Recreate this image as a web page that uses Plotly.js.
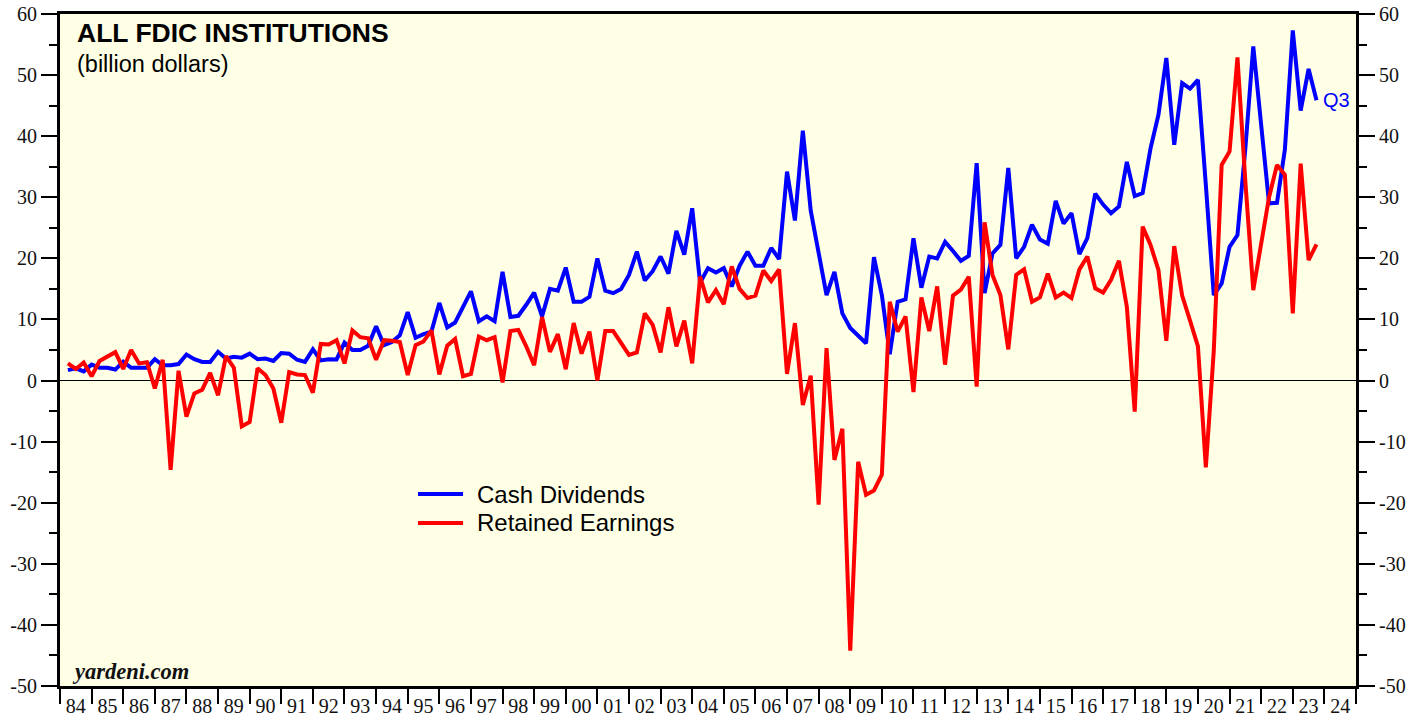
<!DOCTYPE html>
<html>
<head>
<meta charset="utf-8">
<script src="https://cdn.plot.ly/plotly-3.0.1.min.js"></script>
<style>
  html, body { margin: 0; padding: 0; background: #ffffff; }
  #chart { width: 1426px; height: 717px; }
</style>
</head>
<body>
<div id="chart"></div>
<script>
// Quarterly data, 1984 Q1 .. 2023 Q3 (billion dollars)
const startYear = 1984;

const cashDividends = [
  1.7, 2.0, 1.5, 2.6,   2.1, 2.1, 1.8, 3.1,   2.1, 2.1, 2.1, 3.5,   2.5, 2.5, 2.7, 4.25,
  3.5, 3.05, 3.05, 4.7, 3.6, 3.9, 3.75, 4.4,  3.5, 3.6, 3.2, 4.5,   4.4, 3.4, 3.05, 5.1,
  3.3, 3.5, 3.45, 6.2,  5.0, 5.0, 5.7, 8.9,   5.8, 6.3, 7.4, 11.2,  7.0, 7.6, 8.0, 12.7,
  8.7, 9.5, 12.2, 14.6, 9.7, 10.5, 9.7, 17.8, 10.4, 10.6, 12.4, 14.4, 10.5, 15.0, 14.7, 18.5,
  12.9, 12.9, 13.7, 20.0, 14.7, 14.3, 15.0, 17.3, 21.1, 16.4, 17.9, 20.3, 17.5, 24.5, 20.6, 28.2,
  16.0, 18.4, 17.7, 18.4, 15.4, 18.8, 21.1, 18.8, 18.8, 21.7, 19.9, 34.2, 26.2, 40.9, 27.8, 21.2,
  14.0, 17.8, 11.0, 8.6,  7.3, 6.1, 20.2, 14.0,  4.3, 12.9, 13.3, 23.3, 15.2, 20.3, 20.0, 22.7,
  21.2, 19.6, 20.4, 35.6, 14.3, 20.8, 22.2, 34.8, 20.0, 21.9, 25.5, 23.1, 22.4, 29.4, 25.7, 27.4,
  20.7, 23.3, 30.6, 28.8, 27.4, 28.5, 35.8, 30.2, 30.7, 38.0, 43.5, 52.8, 38.6, 48.7, 47.8, 49.2,
  32.0, 14.0, 15.9, 21.9, 23.8, 38.0, 54.7, 41.0, 29.0, 29.1, 37.8, 57.3, 44.2, 51.0, 45.9
];

const retainedEarnings = [
  2.8, 1.9, 2.95, 0.7,  3.2, 3.9, 4.65, 1.9,  5.0, 2.8, 3.0, -1.3,  3.4, -14.6, 1.6, -5.9,
  -2.1, -1.5, 1.25, -2.4, 4.0, 2.1, -7.5, -6.8, 2.0, 0.9, -1.3, -6.9, 1.4, 1.0, 0.9, -2.0,
  6.0, 5.9, 6.6, 2.8,   8.2, 7.1, 6.9, 3.4,   6.6, 6.5, 6.3, 0.9,   5.8, 6.4, 8.2, 1.0,
  5.7, 6.8, 0.7, 1.1,   7.2, 6.6, 7.1, -0.3,  8.1, 8.3, 5.6, 2.5,   10.4, 4.7, 7.6, 1.85,
  9.4, 4.4, 8.0, 0.0,   8.1, 8.1, 6.1, 4.2,   4.6, 11.0, 9.1, 4.6,  12.0, 5.6, 9.8, 2.8,
  17.0, 12.8, 14.8, 12.5, 18.7, 15.0, 13.5, 13.9, 18.0, 16.3, 18.2, 1.1, 9.4, -4.0, 0.8, -20.3,
  5.3, -13.0, -7.9, -44.2, -13.3, -18.7, -18.0, -15.4, 12.9, 8.0, 10.5, -1.9, 13.6, 8.1, 15.4, 2.6,
  13.9, 14.9, 17.0, -1.0, 25.9, 17.3, 14.0, 5.1, 17.3, 18.2, 12.9, 13.6, 17.5, 13.6, 14.4, 13.5,
  18.2, 20.3, 15.1, 14.4, 16.5, 19.6, 12.1, -5.1, 25.2, 22.2, 18.1, 6.5, 22.0, 13.9, 9.8, 5.6,
  -14.2, 4.8, 35.3, 37.5, 52.9, 32.5, 14.8, 22.5, 30.0, 35.3, 33.7, 11.0, 35.5, 19.7, 22.3
];

const seriesNames = ['Cash Dividends', 'Retained Earnings'];
const seriesColors = ['#0000FF', '#FF0000'];

const yearLabels = ['84','85','86','87','88','89','90','91','92','93','94','95','96','97','98','99',
  '00','01','02','03','04','05','06','07','08','09','10','11','12','13','14','15','16','17','18','19',
  '20','21','22','23','24'];

const yTickVals = [-50, -40, -30, -20, -10, 0, 10, 20, 30, 40, 50, 60];
const yTickText = ['-50', '-40', '-30', '-20', '-10', '0', '10', '20', '30', '40', '50', '60'];
const yMinorVals = [-45, -35, -25, -15, -5, 5, 15, 25, 35, 45, 55];

// quarter-end positions in decimal years
const quarterX = cashDividends.map((_, i) => startYear + (i + 1) / 4);
const yearStarts = [];
for (let k = 0; k <= yearLabels.length; k++) yearStarts.push(startYear + k);
const yearMids = yearLabels.map((_, k) => startYear + k + 0.5);

const serif = 'Liberation Serif, Times New Roman, serif';
const sans = 'Liberation Sans, Arial, sans-serif';
const lineW = 4;

const traces = [
  { x: quarterX, y: cashDividends, type: 'scatter', mode: 'lines', name: seriesNames[0],
    line: { color: seriesColors[0], width: lineW }, showlegend: false, hoverinfo: 'x+y' },
  { x: quarterX, y: retainedEarnings, type: 'scatter', mode: 'lines', name: seriesNames[1],
    line: { color: seriesColors[1], width: lineW }, showlegend: false, hoverinfo: 'x+y' },
  { x: [null], y: [null], yaxis: 'y2', type: 'scatter', mode: 'lines', showlegend: false, hoverinfo: 'skip' }
];

const yAxisBase = {
  range: [-50, 60],
  tickmode: 'array', tickvals: yTickVals, ticktext: yTickText,
  ticks: 'outside', ticklen: 16, tickwidth: 2, tickcolor: '#000',
  showline: true, linewidth: 3, linecolor: '#000',
  showgrid: false, fixedrange: true,
  tickfont: { family: serif, size: 20, color: '#111' },
  minor: { tickmode: 'array', tickvals: yMinorVals, ticks: 'outside', ticklen: 8, tickwidth: 2, tickcolor: '#000', showgrid: false }
};

// manual legend (line samples + labels), positioned in paper coordinates
const legendX0 = 0.2762, legendX1 = 0.3110, legendTextX = 0.3202;
const legendYs = [0.2857, 0.2426];
const legendShapes = seriesNames.map((n, k) => ({
  type: 'line', xref: 'paper', yref: 'paper',
  x0: legendX0, x1: legendX1, y0: legendYs[k], y1: legendYs[k],
  line: { color: seriesColors[k], width: lineW }
}));
const legendLabels = seriesNames.map((n, k) => ({
  xref: 'paper', yref: 'paper', x: legendTextX, y: legendYs[k],
  xanchor: 'left', yanchor: 'middle', text: n, showarrow: false,
  font: { family: sans, size: 24, color: '#000' }
}));

const layout = {
  width: 1426, height: 717,
  margin: { l: 60, r: 70, t: 14, b: 31, pad: 0 },
  paper_bgcolor: '#ffffff',
  plot_bgcolor: '#FFFFE6',
  showlegend: false,
  xaxis: {
    range: [startYear, startYear + yearLabels.length],
    tickmode: 'array', tickvals: yearMids, ticktext: yearLabels,
    ticks: '', showline: true, linewidth: 3, linecolor: '#000', mirror: true,
    showgrid: false, zeroline: false, fixedrange: true,
    tickfont: { family: serif, size: 20, color: '#111' },
    minor: { tickmode: 'array', tickvals: yearStarts, ticks: 'outside', ticklen: 15, tickwidth: 2, tickcolor: '#000', showgrid: false }
  },
  yaxis: Object.assign({}, yAxisBase, {
    side: 'left',
    zeroline: true, zerolinecolor: '#000', zerolinewidth: 1.5
  }),
  yaxis2: Object.assign({}, yAxisBase, {
    side: 'right', overlaying: 'y', anchor: 'x', zeroline: false
  }),
  shapes: legendShapes,
  annotations: [
    { xref: 'paper', yref: 'paper', x: 0.0115, y: 0.971, xanchor: 'left', yanchor: 'middle',
      text: '<b>ALL FDIC INSTITUTIONS</b>', showarrow: false,
      font: { family: sans, size: 26.5, color: '#000' } },
    { xref: 'paper', yref: 'paper', x: 0.0115, y: 0.926, xanchor: 'left', yanchor: 'middle',
      text: '(billion dollars)', showarrow: false,
      font: { family: sans, size: 23.5, color: '#000' } },
    { xref: 'paper', yref: 'paper', x: 0.0075, y: 0.022, xanchor: 'left', yanchor: 'middle',
      text: '<b><i>yardeni.com</i></b>', showarrow: false,
      font: { family: serif, size: 22.5, color: '#111' } },
    { xref: 'x', yref: 'y', x: quarterX[quarterX.length - 1], y: cashDividends[cashDividends.length - 1],
      xanchor: 'left', yanchor: 'middle', xshift: 5, text: 'Q3', showarrow: false,
      font: { family: sans, size: 20, color: '#0000FF' } }
  ].concat(legendLabels)
};

Plotly.newPlot('chart', traces, layout, { displayModeBar: false, staticPlot: true });
</script>
</body>
</html>
